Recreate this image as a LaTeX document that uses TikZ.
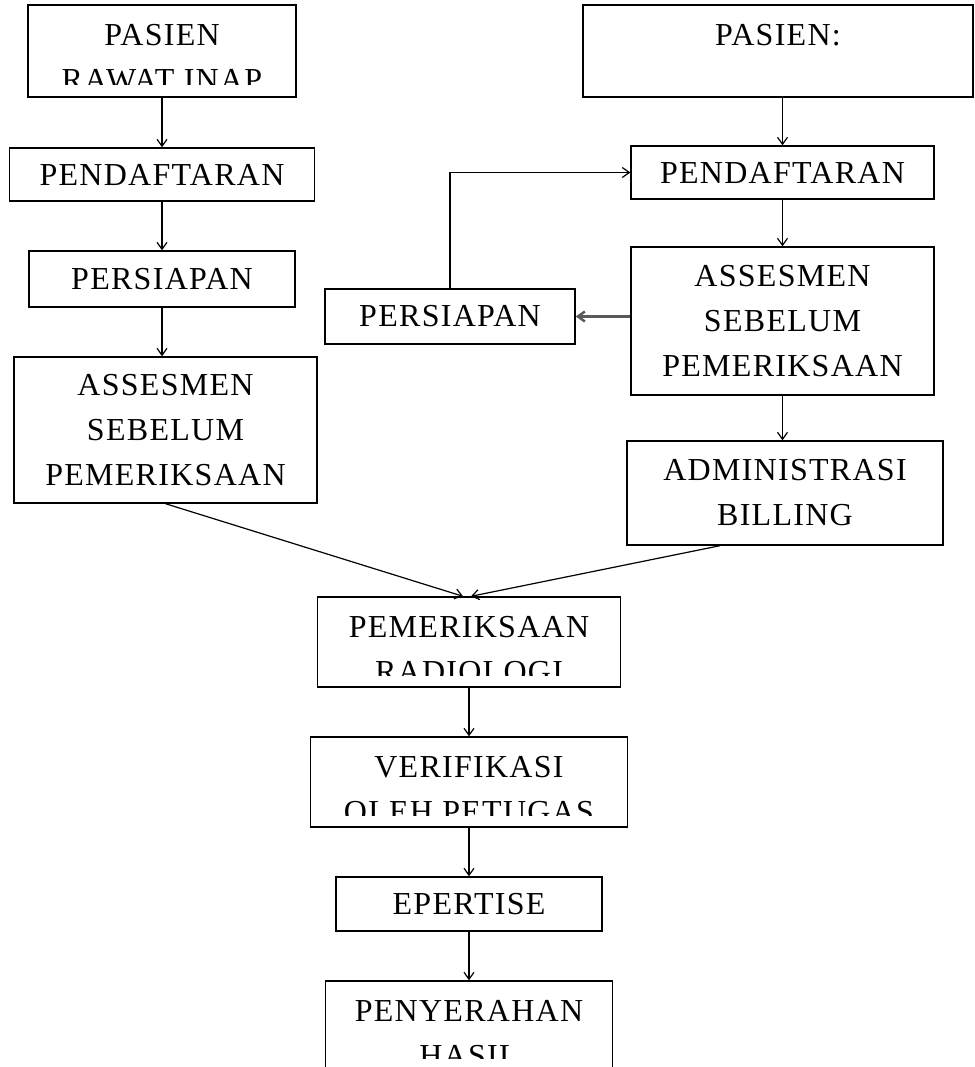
\documentclass[tikz,border=0pt]{standalone}
\usepackage{fontspec}
\newfontfamily\flowfont[LetterSpace=4]{Liberation Serif}
\usetikzlibrary{arrows.meta}

\begin{document}
\begin{tikzpicture}[x=1pt, y=1pt,
		>={Straight Barb[length=7pt,width=10pt]},
		box/.style = {draw, line width=1.4pt, inner sep=0pt, align=center,
			font=\flowfont\fontsize{32}{45}\selectfont},
		cut/.style 2 args = {path picture={
				\clip ([yshift=12pt]path picture bounding box.south west) rectangle (path picture bounding box.north east);
				\node (#1) [anchor=north, inner sep=0pt, minimum width=0pt, minimum height=0pt, align=center,
				font=\flowfont\fontsize{32}{45}\selectfont]
				at ([yshift=-19pt]path picture bounding box.north) {#2};}},
		link/.style = {->, line width=1.2pt}
		]
		\clip (0,0) rectangle (974,-1067);
		
		%kolom kiri
		\node (pas1) [box, minimum width=268pt, minimum height=92pt, cut={pas1t}{PASIEN\\RAWAT INAP}] at (162,-51) {};
		\node (daf1) [box, minimum width=305pt, minimum height=53pt] at (162,-174.5) {PENDAFTARAN};
		\node (per1) [box, minimum width=266pt, minimum height=56pt] at (162,-279) {PERSIAPAN};
		\node (ass1) [box, minimum width=303pt, minimum height=146pt] at (165.5,-430) {ASSESMEN\\SEBELUM\\PEMERIKSAAN};
		
		%kolom kanan
		\node (pas2) [box, minimum width=390pt, minimum height=92pt, cut={pas2t}{PASIEN:}] at (778,-51) {};
		\node (daf2) [box, minimum width=303pt, minimum height=53pt] at (782.5,-172.5) {PENDAFTARAN};
		\node (ass2) [box, minimum width=303pt, minimum height=148pt] at (782.5,-321) {ASSESMEN\\SEBELUM\\PEMERIKSAAN};
		\node (per2) [box, minimum width=250pt, minimum height=55pt] at (450,-316.5) {PERSIAPAN};
		\node (adm) [box, minimum width=316pt, minimum height=104pt] at (785,-493) {ADMINISTRASI\\BILLING};
		
		%alur bersama
		\node (rad) [box, minimum width=303pt, minimum height=90pt, cut={radt}{PEMERIKSAAN\\RADIOLOGI}] at (469,-642) {};
		\node (ver) [box, minimum width=317pt, minimum height=90pt, cut={vert}{VERIFIKASI\\OLEH PETUGAS}] at (469,-782) {};
		\node (ept) [box, minimum width=266pt, minimum height=54pt] at (469,-904) {EPERTISE};
		\node (has) [box, minimum width=287pt, minimum height=89pt, cut={hast}{PENYERAHAN\\HASIL}] at (469,-1025.5) {};
		
		\draw[link] (pas1) -- (daf1);
		\draw[link] (daf1) -- (per1);
		\draw[link] (per1.south) -- (per1.south |- ass1.north);
		
		\draw[link] (pas2.south -| daf2) -- (daf2);
		\draw[link] (daf2) -- (ass2);
		\draw[link] (ass2) -- (ass2 |- adm.north);
		\draw[link, gray!70!black, line width=2.5pt] (ass2.west |- per2) -- (per2.east);
		\draw[link] (per2.north) |- (daf2.west);
		
		%menuju pemeriksaan
		\draw[link] (ass1.south) -- ([xshift=-6pt]rad.north);
		\draw[link] ([xshift=-65pt]adm.south) -- ([xshift=2pt]rad.north);
		\draw[link] (rad) -- (ver);
		\draw[link] (ver) -- (ept);
		\draw[link] (ept) -- (has);
		
		\end{tikzpicture}
\end{document}
